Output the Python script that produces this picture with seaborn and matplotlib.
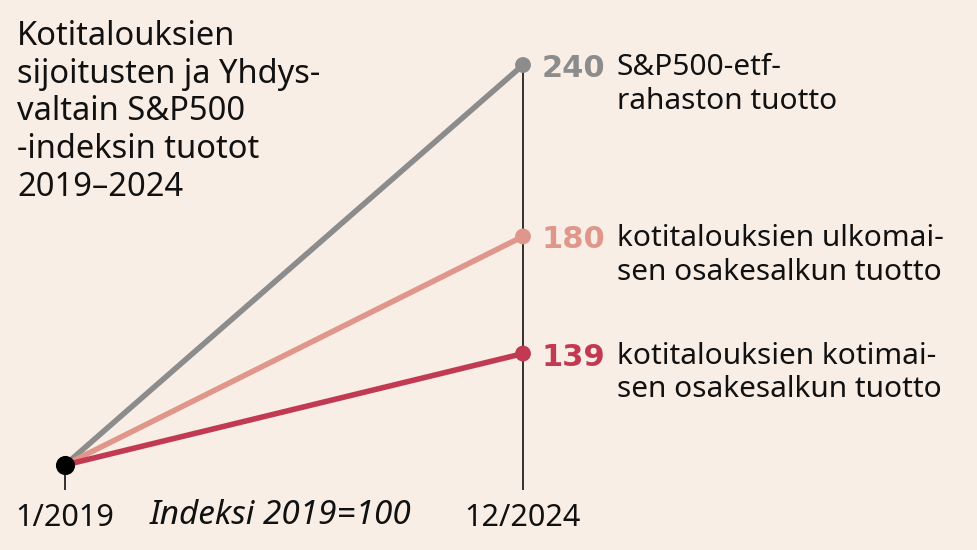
import matplotlib
matplotlib.use("Agg")
import matplotlib.pyplot as plt
import seaborn as sns
import pandas as pd

# ---- data ----
series = ["S&P500-etf-rahaston tuotto",
          "kotitalouksien ulkomaisen osakesalkun tuotto",
          "kotitalouksien kotimaisen osakesalkun tuotto"]
series_labels = ["S&P500-etf-\nrahaston tuotto",
                 "kotitalouksien ulkomai-\nsen osakesalkun tuotto",
                 "kotitalouksien kotimai-\nsen osakesalkun tuotto"]
start_values = [100, 100, 100]
end_values = [240, 180, 139]
periods = ["1/2019", "12/2024"]
title = "Kotitalouksien\nsijoitusten ja Yhdys-\nvaltain S&P500\n-indeksin tuotot\n2019–2024"
index_note = "Indeksi 2019=100"

colors = ["#8c8c8c", "#e0978b", "#c13a52"]
bg = "#f8eee6"

rows = []
for s, a, b in zip(series, start_values, end_values):
    rows.append({"series": s, "x": 0, "value": a})
    rows.append({"series": s, "x": 1, "value": b})
df = pd.DataFrame(rows)

sns.set_theme(style="white")
plt.rcParams["font.family"] = ["Noto Sans", "DejaVu Sans"]

fig = plt.figure(figsize=(9.78, 5.5), dpi=100, facecolor=bg)
ax = fig.add_axes([65 / 978, 85 / 550, 458 / 978, 400 / 550])
ax.set_facecolor(bg)

ax.axvline(1, color="#222222", lw=1.3, zorder=1, clip_on=False)

sns.lineplot(data=df, x="x", y="value", hue="series", palette=colors,
             hue_order=series, linewidth=4, legend=False, ax=ax,
             zorder=2, clip_on=False)
for line in ax.lines:
    line.set_solid_capstyle("butt")

end_df = df[df["x"] == 1]
sns.scatterplot(data=end_df, x="x", y="value", hue="series", palette=colors,
                hue_order=series, s=130, linewidth=0, legend=False, ax=ax,
                zorder=3, clip_on=False)
start_df = df[df["x"] == 0].iloc[:1]
ax.scatter(start_df["x"], start_df["value"], s=190, color="black",
           zorder=4, clip_on=False, linewidths=0)

ax.set_xlim(0, 1)
ax.set_ylim(100, 240)
for sp in ax.spines.values():
    sp.set_visible(False)
ax.set_yticks([])
ax.set_xticks([0, 1])
ax.set_xticklabels(periods, fontsize=22, color="#111111")
ax.tick_params(axis="x", length=18, width=1.3, color="#222222", pad=9,
               bottom=True, direction="out")
ax.set_xlabel("")
ax.set_ylabel("")

ax.annotate(index_note, xy=(0.471, 0), xycoords=("axes fraction", "axes fraction"),
            xytext=(0, -50), textcoords="offset pixels", ha="center", va="center",
            fontsize=24, style="italic", color="#111111", annotation_clip=False)

for lab, v, c in zip(series_labels, end_values, colors):
    ax.annotate(str(v), xy=(1, v), xytext=(19, -12), textcoords="offset pixels",
                ha="left", va="baseline", fontsize=22, fontweight="bold", color=c,
                family=["DejaVu Sans"], annotation_clip=False)
    ax.annotate(lab, xy=(1, v), xytext=(94, 12), textcoords="offset pixels",
                ha="left", va="top", fontsize=21.5, color="#111111",
                linespacing=1.22, annotation_clip=False)

fig.text(17 / 978, 1 - 20 / 550, title, ha="left", va="top", fontsize=23.5,
         color="#111111", linespacing=1.19)

fig.savefig("out.png", dpi=100, facecolor=bg)
